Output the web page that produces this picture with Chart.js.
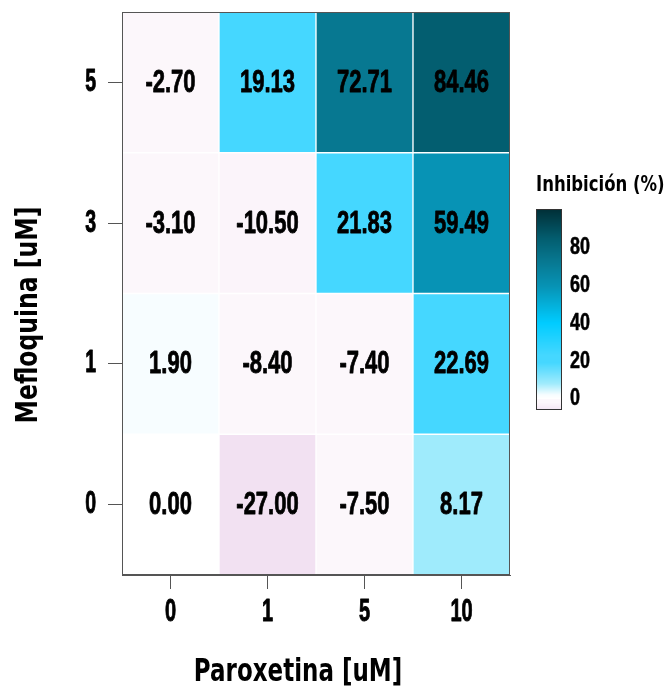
<!DOCTYPE html>
<html>
<head>
<meta charset="utf-8">
<script src="https://cdn.jsdelivr.net/npm/chart.js@4.4.1/dist/chart.umd.min.js"></script>
<style>
html,body{margin:0;padding:0;background:#fff;}
#wrap{width:665px;height:689px;position:relative;}
</style>
</head>
<body>
<div id="wrap"><canvas id="c" width="665" height="689"></canvas></div>
<script>
// Categories
const paroxetina = ['0', '1', '5', '10'];          // x axis (uM)
const mefloquina = ['0', '1', '3', '5'];           // y axis (uM), bottom to top
// Inhibition (%) per Mefloquina row, across Paroxetina columns
const mef0 = [0.00, -27.00, -7.50, 8.17];
const mef1 = [1.90, -8.40, -7.40, 22.69];
const mef3 = [-3.10, -10.50, 21.83, 59.49];
const mef5 = [-2.70, 19.13, 72.71, 84.46];
const rows = [mef0, mef1, mef3, mef5];
// Colour bar ticks
const cbTicks = [0, 20, 40, 60, 80];
const cbMin = -6, cbMax = 100.5;

const stops = [
  [-27, [242, 225, 242]],
  [-8, [252, 247, 251]],
  [-2, [252, 247, 251]],
  [0, [255, 255, 255]],
  [2, [247, 253, 255]],
  [8, [160, 235, 252]],
  [19, [69, 215, 255]],
  [23, [69, 215, 255]],
  [40, [0, 204, 255]],
  [59.5, [7, 147, 181]],
  [72.7, [7, 120, 145]],
  [84.5, [3, 94, 112]],
  [100, [1, 48, 56]]
];
function colorFor(v) {
  if (v <= stops[0][0]) return 'rgb(' + stops[0][1].join(',') + ')';
  for (let i = 1; i < stops.length; i++) {
    if (v <= stops[i][0]) {
      const [a, ca] = stops[i - 1], [b, cb] = stops[i];
      const t = (v - a) / (b - a);
      const c = ca.map((x, k) => Math.round(x + (cb[k] - x) * t));
      return 'rgb(' + c.join(',') + ')';
    }
  }
  return 'rgb(' + stops[stops.length - 1][1].join(',') + ')';
}

const SANS = "'Liberation Sans', Arial, sans-serif";
const WIDE = "'DejaVu Sans', 'Liberation Sans', sans-serif";

const datasets = rows.map((vals, r) => ({
  label: 'Mefloquina ' + mefloquina[r],
  data: vals.map(() => [r - 0.5, r + 0.5]),
  values: vals,
  backgroundColor: vals.map(colorFor),
  borderColor: '#ffffff',
  borderWidth: 1,
  borderSkipped: false,
  grouped: false,
  barPercentage: 1,
  categoryPercentage: 1
}));

function stretchedText(ctx, text, x, y, font, sx, sy, align, rot, thick) {
  ctx.save();
  ctx.translate(x, y);
  if (rot) ctx.rotate(rot);
  ctx.scale(sx, sy);
  ctx.font = font;
  ctx.textAlign = align || 'center';
  ctx.textBaseline = 'middle';
  ctx.fillStyle = '#000';
  ctx.fillText(text, 0, 0);
  if (thick) {
    ctx.strokeStyle = '#000';
    ctx.lineWidth = thick;
    ctx.lineJoin = 'round';
    ctx.strokeText(text, 0, 0);
  }
  ctx.restore();
}

const decor = {
  id: 'decor',
  afterDatasetsDraw(chart) {
    const ctx = chart.ctx;
    const ca = chart.chartArea;
    // cell values
    chart.data.datasets.forEach((ds, di) => {
      const meta = chart.getDatasetMeta(di);
      meta.data.forEach((el, i) => {
        const cy = (el.y + el.base) / 2;
        stretchedText(ctx, ds.values[i].toFixed(2), el.x, cy + 1, 'bold 22px ' + SANS, 1, 1.4, 'center', 0, 0.6);
      });
    });
    // frame
    ctx.save();
    ctx.strokeStyle = '#555';
    ctx.lineWidth = 1;
    ctx.strokeRect(ca.left + 0.5, ca.top + 0.5, ca.right - ca.left - 1, ca.bottom - ca.top - 1);
    ctx.restore();
  },
  afterDraw(chart) {
    const ctx = chart.ctx;
    const xs = chart.scales.x, ys = chart.scales.y;
    // tick labels
    xs.ticks.forEach((t, i) => {
      stretchedText(ctx, paroxetina[i], xs.getPixelForTick(i), 612, 'bold 20px ' + SANS, 1, 1.55, 'center', 0, 0.6);
    });
    ys.ticks.forEach((t, i) => {
      stretchedText(ctx, mefloquina[i], 96, ys.getPixelForValue(t.value), 'bold 19.5px ' + SANS, 1, 1.6, 'right', 0, 0.6);
    });
    // axis titles
    stretchedText(ctx, 'Paroxetina [uM]', 298, 673, 'bold 23px ' + WIDE, 1, 1.4, 'center');
    stretchedText(ctx, 'Mefloquina [uM]', 29, 315, 'bold 23.5px ' + WIDE, 1, 1.3, 'center', -Math.PI / 2);
    // colour bar
    const bx = 536, bw = 26, top = 209, bot = 410;
    const h = bot - top;
    for (let p = 0; p < h; p++) {
      const v = cbMax - (p + 0.5) / h * (cbMax - cbMin);
      ctx.fillStyle = colorFor(v < 0 ? v * 4 : v);
      ctx.fillRect(bx, top + p, bw, 1);
    }
    ctx.save();
    ctx.strokeStyle = '#333';
    ctx.lineWidth = 1;
    ctx.strokeRect(bx + 0.5, top + 0.5, bw - 1, h - 1);
    ctx.restore();
    cbTicks.forEach(t => {
      const y = bot - (t - cbMin) / (cbMax - cbMin) * h;
      stretchedText(ctx, String(t), 570, y, 'bold 18px ' + SANS, 1, 1.37, 'left', 0, 0.4);
    });
    stretchedText(ctx, 'Inhibición (%)', 536, 186, 'bold 16.5px ' + WIDE, 1, 1.25, 'left');
  }
};

new Chart(document.getElementById('c'), {
  type: 'bar',
  data: { labels: paroxetina, datasets },
  options: {
    responsive: false,
    animation: false,
    events: [],
    layout: { padding: { top: 12, right: 155, left: 0, bottom: 0 } },
    plugins: { legend: { display: false }, tooltip: { enabled: false } },
    scales: {
      x: {
        type: 'category',
        offset: true,
        grid: { offset: false, drawOnChartArea: false, tickLength: 14, color: '#555', tickWidth: 1 },
        border: { display: true, color: '#555' },
        ticks: { display: false },
        afterFit(s) { s.height = 114; s.paddingLeft = 0; s.paddingRight = 0; }
      },
      y: {
        type: 'linear',
        min: -0.5,
        max: 3.5,
        afterBuildTicks(s) { s.ticks = mefloquina.map((_, i) => ({ value: i })); },
        grid: { drawOnChartArea: false, tickLength: 14, color: '#555' },
        border: { display: true, color: '#555' },
        ticks: { display: false },
        afterFit(s) { s.width = 122; s.paddingTop = 0; s.paddingBottom = 0; }
      }
    }
  },
  plugins: [decor]
});
</script>
</body>
</html>
